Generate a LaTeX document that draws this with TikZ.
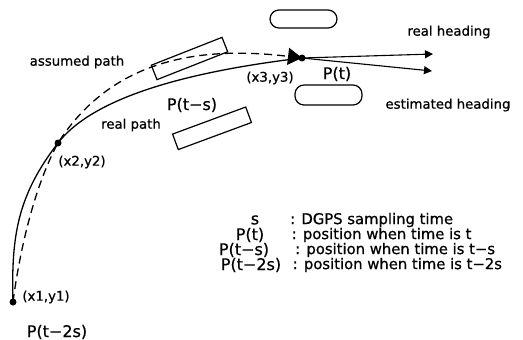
\documentclass[tikz,border=0pt]{standalone}
\usepackage{fontspec}
\setmainfont{DejaVu Sans}[FakeBold=0.7]
\usetikzlibrary{arrows.meta}
\begin{document}
\begin{tikzpicture}[x=1pt,y=-1pt,
  pathline/.style={line width=1.3pt},
  dashline/.style={line width=1.3pt, dash pattern=on 8pt off 5pt},
  heading/.style={line width=1.1pt, -{Triangle[length=8pt,width=8pt]}},
  station/.style={circle, fill, inner sep=0pt, minimum size=7pt},
  carbox/.style={rectangle, draw, line width=1.2pt, inner sep=0pt},
  obstacle/.style={rectangle, draw, line width=1.2pt, inner sep=0pt, rounded corners=9pt,
                   minimum width=67pt},
  smalltxt/.style={inner sep=0pt, font=\fontsize{13.3}{15}\selectfont},
  bigtxt/.style={inner sep=0pt, font=\fontsize{16}{18}\selectfont},
  legtxt/.style={inner sep=0pt, anchor=west, font=\fontsize{14.8}{17}\selectfont}
]
\useasboundingbox (0,0) rectangle (523,340);

% sampled positions
\node[station] (x1) at (13,302) {};
\node[station] (x2) at (58,143) {};
\node[station] (x3) at (302,58) {};

% vehicle outlines and obstacles
\node[carbox, minimum width=76pt, minimum height=15.5pt, rotate=21.5] (car1) at (189.5,58.5) {};
\node[carbox, minimum width=78pt, minimum height=16.5pt, rotate=20.3] (car2) at (212,128.3) {};
\node[obstacle, minimum height=18pt] (ob1) at (303.5,19) {};
\node[obstacle, minimum height=20pt] (ob2) at (328.5,95) {};

% real path (solid) and assumed path (dashed)
\draw[pathline] (x1.center) .. controls (11,235) and (18,195) .. (x2.center)
  .. controls (94.6,95.6) and (193,71) .. (x3.center);
\draw[dashline, -{Triangle[length=14pt,width=17pt]}] (x1.center)
  .. controls (19.4,252.5) and (34,187) .. (x2.center)
  .. controls (110,62) and (194,45) .. (x3.center);

% headings
\coordinate (rh) at (433,54);
\coordinate (eh) at (432,71);
\draw[heading] (x3.center) -- (rh);
\draw[heading] (x3.center) -- (eh);

% labels
\node[smalltxt] (lassumed) at (77,62) {assumed path};
\node[smalltxt] (lreal) at (131,125) {real path};
\node[bigtxt] (lpts) at (192,105) {P(t−s)};
\node[smalltxt] (lx2) at (82,162) {(x2,y2)};
\node[smalltxt] (lx3) at (270,78) {(x3,y3)};
\node[bigtxt] (lpt) at (337,74) {P(t)};
\node[smalltxt] (lrh) at (449,32) {real heading};
\node[smalltxt] (leh) at (448,105) {estimated heading};
\node[smalltxt] (lx1) at (46,297) {(x1,y1)};
\node[bigtxt] (lpt2s) at (57,332) {P(t−2s)};

% legend
\node[bigtxt] (k1) at (255,220) {s};
\node[bigtxt] (k2) at (250,235) {P(t)};
\node[bigtxt] (k3) at (244,250) {P(t−s)};
\node[bigtxt] (k4) at (251,265) {P(t−2s)};
\node[legtxt] (d1) at (290,220) {: DGPS sampling time};
\node[legtxt] (d2) at (291.5,235) {: position when time is t};
\node[legtxt] (d3) at (295,250) {: position when time is t−s};
\node[legtxt] (d4) at (292.5,265) {: position when time is t−2s};
\end{tikzpicture}
\end{document}
